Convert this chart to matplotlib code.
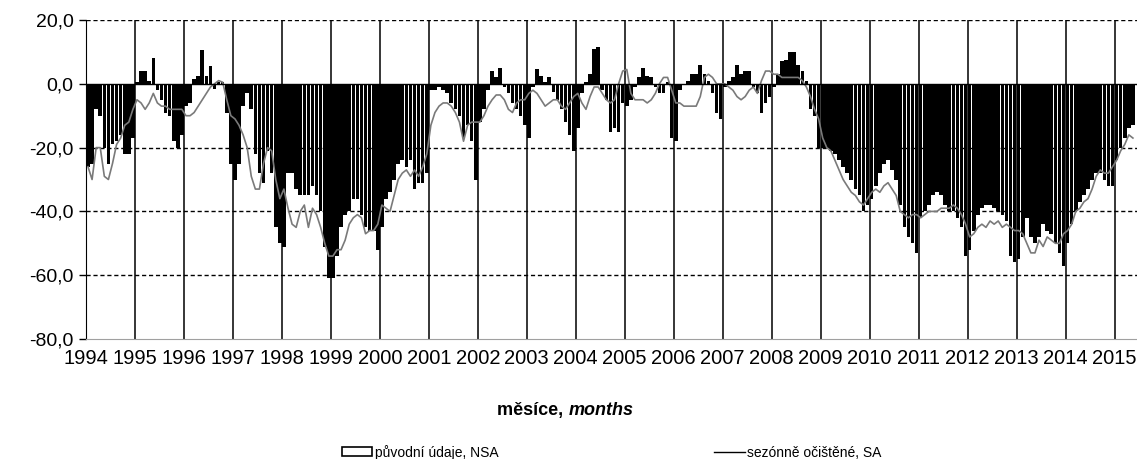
import matplotlib.pyplot as plt
from matplotlib.lines import Line2D
from matplotlib.patches import Patch
import numpy as np

plt.rcParams['font.family'] = ['Liberation Sans', 'DejaVu Sans']

years = list(range(1994, 2016))

# původní údaje (NSA), monthly from Jan 1994
nsa = [
    -26, -25, -8, -10, -20, -25, -19, -18, -16, -22, -22, -17,   # 1994
    0.5, 4, 4, 1, 8, -2, -5, -9, -10, -18, -20, -16,             # 1995
    -7, -6, 1.5, 2.5, 10.5, 2.5, 5.5, -1.5, 0.5, 0.5, -9, -25,   # 1996
    -30, -25, -7, -3, -8, -22, -28, -31, -21, -28, -45, -50,     # 1997
    -51, -28, -28, -33, -35, -35, -35, -32, -35, -40, -51, -61,  # 1998
    -61, -54, -45, -41, -40, -36, -36, -41, -45, -46, -46, -52,  # 1999
    -45, -36, -34, -30, -25, -24, -26, -24, -33, -31, -31, -28,  # 2000
    -2, -2, -1, -2, -3, -6, -8, -10, -17, -13, -18, -30,         # 2001
    -12, -8, -2, 4, 2, 5, -1, -3, -6, -8, -10, -13,              # 2002
    -17, -1, 4.5, 2.5, 0.5, 2, -2.5, -5, -8, -12, -16, -21,      # 2003
    -14, -3, 0.5, 3, 11, 11.5, -2, -5, -15, -14, -15, -6,        # 2004
    -7, -5, -1, 2, 5, 2.5, 2, -1, -3, -3, 0.5, -17,              # 2005
    -18, -2, -0.5, 1, 3, 3, 6, 3, 1, -3, -9, -11,                # 2006
    -1, 1, 2, 6, 3, 4, 4, -1, -3, -9, -6, -4,                    # 2007
    -1, 3, 7, 7.5, 10, 10, 6, 4, 1, -8, -10, -20,                # 2008
    -20, -20, -21, -22, -24, -26, -28, -30, -33, -35, -40, -38,  # 2009
    -36, -32, -28, -25, -24, -27, -30, -38, -45, -48, -50, -53,  # 2010
    -42, -40, -38, -35, -34, -35, -38, -40, -40, -42, -45, -54,  # 2011
    -52, -46, -41, -39, -38, -38, -39, -40, -41, -43, -54, -56,  # 2012
    -55, -48, -42, -48, -50, -48, -44, -46, -47, -50, -53, -57,  # 2013
    -50, -44, -40, -37, -35, -33, -30, -28, -28, -30, -32, -32,  # 2014
    -24, -20, -17, -14, -13,                                      # 2015
]

# sezónně očištěné (SA)
sa = [
    -26, -30, -20, -20, -29, -30, -25, -19, -17, -13, -12, -8,   # 1994
    -5, -6, -8, -6, -3, -6, -7, -7, -8, -8, -8, -8,              # 1995
    -10, -10, -9, -7, -5, -3, -1, 0, 1, 0.5, -5, -10,            # 1996
    -11, -13, -16, -20, -29, -33, -33, -25, -20, -21, -30, -36,  # 1997
    -33, -39, -44, -45, -40, -38, -45, -39, -41, -45, -50, -54,  # 1998
    -54, -52, -52, -49, -44, -42, -41, -42, -47, -46, -46, -44,  # 1999
    -38, -39, -40, -35, -30, -28, -27, -29, -27, -29, -26, -22,  # 2000
    -13, -9, -7, -6, -6, -7, -9, -12, -18, -13, -12, -12,        # 2001
    -12, -10, -7, -5, -3.5, -3.5, -5, -8, -9, -6, -5, -5,        # 2002
    -3, -2, -3, -5, -7, -6, -5, -5, -7, -8, -6, -4,              # 2003
    -3, -6, -8, -4, -1, -1, -3, -5, -6, -5, 0, 4,                # 2004
    4.5, -3, -5, -5, -5, -6, -5, -3, 0, 2, 2, -2,                # 2005
    -6, -6, -7, -7, -7, -7, -4, 2, 3, 2, 0, 0,                   # 2006
    0, -1, -2, -4, -5, -4, -2, -1, -3, 1, 4, 4,                  # 2007
    3, 3, 2, 2, 2, 2, 2, 1, -1, -4, -8, -11,                     # 2008
    -17, -20, -21, -24, -27, -30, -32, -34, -35, -37, -38, -36,  # 2009
    -34, -33, -34, -32, -31, -33, -35, -40, -41, -42, -41, -41,  # 2010
    -42, -41, -40, -40, -40, -39, -39, -39, -38, -39, -41, -44,  # 2011
    -48, -47, -45, -44, -45, -43, -44, -43, -45, -44, -45, -46,  # 2012
    -46, -47, -50, -53, -53, -49, -51, -48, -49, -50, -50, -47,  # 2013
    -46, -44, -40, -39, -37, -36, -33, -29, -27, -28, -28, -26,  # 2014
    -24, -21, -19, -16, -17,                                      # 2015
]

y_ticks = [-80, -60, -40, -20, 0, 20]
y_labels = ['-80,0', '-60,0', '-40,0', '-20,0', '0,0', '20,0']

fig = plt.figure(figsize=(11.37, 4.59), dpi=100)
ax = fig.add_axes([0.0756, 0.2614, 0.9244, 0.695])

months = np.arange(len(nsa)) + 0.5

# dashed gridlines and year separators
for v in [20, -20, -40, -60]:
    ax.axhline(v, color='black', lw=1, ls=(0, (3, 2)), zorder=1)
for i in range(len(years)):
    ax.axvline(12 * i, color='black', lw=1.1, zorder=1)

ax.bar(months, nsa, width=0.88, color='black', linewidth=0, zorder=2)
ax.plot(months, sa, color='#7a7a7a', lw=1.2, zorder=3)
ax.axhline(0, color='black', lw=1, zorder=4)

ax.set_xlim(0, 257.5)
ax.set_ylim(-80, 20)
ax.set_yticks(y_ticks)
ax.set_yticklabels(y_labels, fontsize=14)
ax.set_xticks([12 * i for i in range(len(years))])
ax.set_xticklabels([str(y) for y in years], fontsize=14.5)
ax.tick_params(axis='x', length=0, pad=7)
ax.tick_params(axis='y', length=5, width=1, pad=4)

for s in ['top', 'right']:
    ax.spines[s].set_visible(False)
ax.spines['left'].set_color('black')
ax.spines['bottom'].set_color('#a0a0a0')

fig.text(0.5, 0.105, 'měsíce, ', ha='right', va='center', fontsize=13, fontweight='bold')
fig.text(0.5, 0.105, 'months', ha='left', va='center', fontsize=13, fontweight='bold', style='italic')

handles = [Patch(facecolor='white', edgecolor='black', linewidth=1.2),
           Line2D([0], [0], color='black', lw=1)]
fig.legend(handles, ['původní údaje, NSA', 'sezónně očištěné, SA'],
           loc='center', bbox_to_anchor=(0.538, 0.015), ncol=2, frameon=False,
           fontsize=10, columnspacing=15.5, handlelength=2.2, handleheight=0.6,
           handletextpad=0.2)

fig.savefig('out.png', dpi=100)
